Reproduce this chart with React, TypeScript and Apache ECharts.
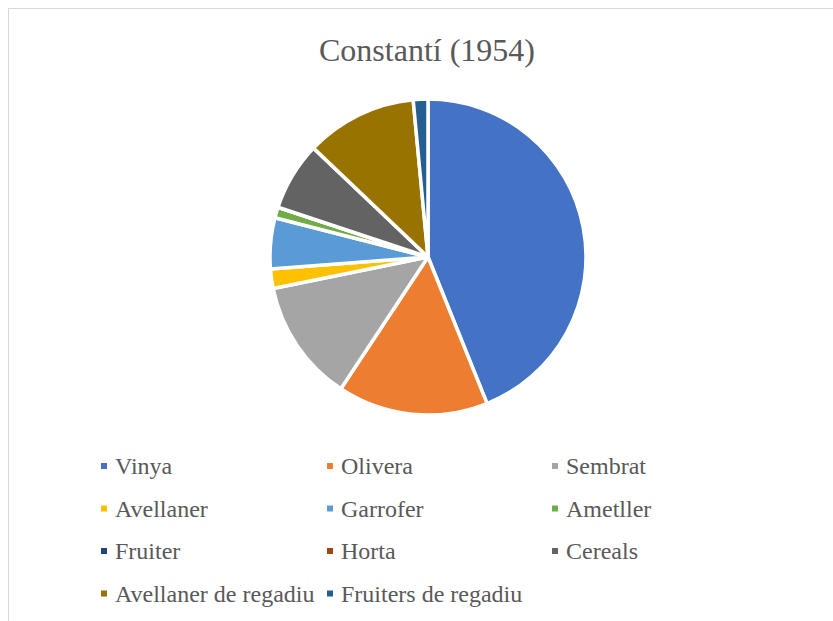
import React, { useEffect, useRef } from "react";
import * as echarts from "echarts";

const titleText = "Constantí (1954)";
const categories = [
  "Vinya",
  "Olivera",
  "Sembrat",
  "Avellaner",
  "Garrofer",
  "Ametller",
  "Fruiter",
  "Horta",
  "Cereals",
  "Avellaner de regadiu",
  "Fruiters de regadiu",
];
const values = [43.9, 15.4, 12.5, 2.0, 5.2, 1.1, 0, 0, 7.0, 11.4, 1.5];
const colors = [
  "#4472C4",
  "#ED7D31",
  "#A5A5A5",
  "#FFC000",
  "#5B9BD5",
  "#70AD47",
  "#264478",
  "#9E480E",
  "#636363",
  "#997300",
  "#255E91",
];
const legendCol1 = ["Vinya", "Avellaner", "Fruiter", "Avellaner de regadiu"];
const legendCol2 = ["Olivera", "Garrofer", "Horta", "Fruiters de regadiu"];
const legendCol3 = ["Sembrat", "Ametller", "Cereals"];

const FONT = "'Liberation Serif', 'Times New Roman', serif";

export default function App() {
  const ref = useRef<HTMLDivElement>(null);
  useEffect(() => {
    if (!ref.current) return;
    const chart = echarts.init(ref.current, undefined, { renderer: "svg" });
    const legendBase = {
      orient: "vertical" as const,
      top: 454,
      padding: 0,
      itemWidth: 8,
      itemHeight: 8,
      itemGap: 18.5,
      icon: "rect",
      selectedMode: false,
      textStyle: {
        fontFamily: FONT,
        fontSize: 24,
        color: "#595959",
        lineHeight: 24,
        padding: [0, 0, 0, 2],
      },
    };
    chart.setOption({
      animation: false,
      backgroundColor: "transparent",
      title: {
        text: titleText,
        left: 422,
        textAlign: "center",
        top: 29,
        textStyle: {
          fontFamily: FONT,
          fontSize: 32,
          fontWeight: "normal",
          color: "#595959",
        },
      },
      legend: [
        { ...legendBase, left: 99, data: legendCol1 },
        { ...legendBase, left: 325, data: legendCol2 },
        { ...legendBase, left: 550, data: legendCol3 },
      ],
      series: [
        {
          type: "pie",
          center: [428, 257],
          radius: 158,
          startAngle: 90,
          clockwise: true,
          label: { show: false },
          labelLine: { show: false },
          emphasis: { disabled: true },
          itemStyle: { borderColor: "#ffffff", borderWidth: 3.5 },
          data: categories.map((name, i) => ({
            name,
            value: values[i],
            itemStyle: { color: colors[i] },
          })),
        },
      ],
    });
    return () => chart.dispose();
  }, []);
  return (
    <div
      style={{
        position: "fixed",
        left: 0,
        top: 0,
        width: 833,
        height: 621,
        overflow: "hidden",
        background: "#ffffff",
      }}
    >
      <div
        style={{
          position: "absolute",
          left: 8,
          top: 8,
          width: 900,
          height: 700,
          border: "1px solid #d9d9d9",
        }}
      />
      <div
        ref={ref}
        style={{ position: "absolute", left: 0, top: 0, width: 833, height: 621 }}
      />
    </div>
  );
}
